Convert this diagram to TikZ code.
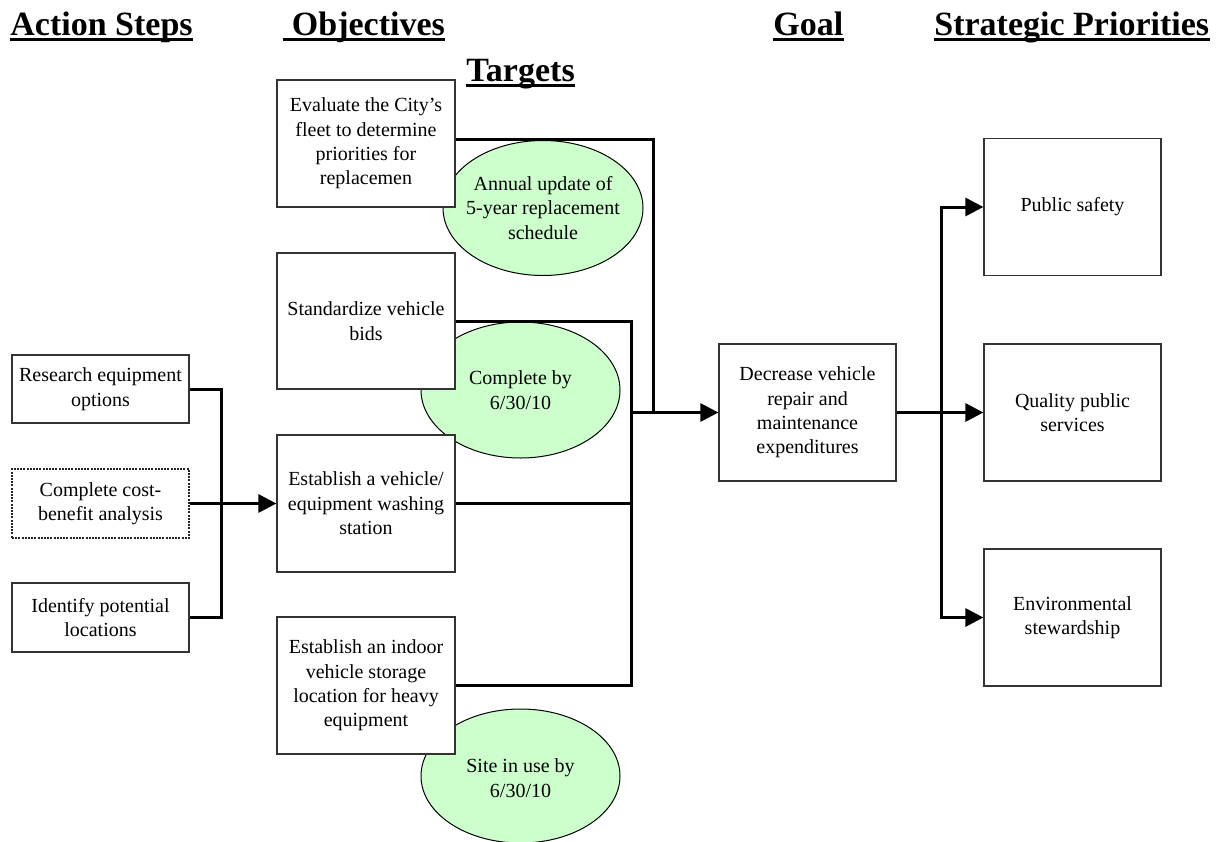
\documentclass[tikz,border=0pt]{standalone}
\usepackage{fontspec}
\setmainfont{Liberation Serif}
\usetikzlibrary{arrows.meta,shapes.geometric,calc}
\definecolor{targetgreen}{HTML}{CCFFCC}
\begin{document}
\begin{tikzpicture}[x=0.5pt,y=-0.5pt,
  box/.style={draw=black!80,line width=0.6pt,fill=white,minimum width=89pt,
    minimum height=68.5pt,align=center,inner sep=2pt,font=\fontsize{10}{12.2}\selectfont},
  smallbox/.style={box,minimum width=88.5pt,minimum height=34.5pt},
  target/.style={ellipse,draw=black,line width=0.5pt,fill=targetgreen,inner sep=0pt,
    minimum width=100pt,minimum height=67.5pt},
  targettext/.style={align=center,inner sep=0pt,font=\fontsize{10}{12.2}\selectfont},
  head/.style={font=\fontsize{17}{20}\selectfont\bfseries,inner sep=0pt,anchor=base west},
  ul/.style={line width=1.3pt},
  conn/.style={line width=1.5pt,line join=miter},
  arr/.style={conn,-{Triangle[length=9pt,width=9pt]}}
]
\useasboundingbox (0,0) rectangle (1221,841);

% column headings
\node[head] (hAct) at (10,35) {Action Steps};
\node[head] (hObj) at (283,35) {\ Objectives};
\node[head] (hGoal) at (773,35) {Goal};
\node[head] (hPri) at (934,35) {Strategic Priorities};
\node[head] (hTar) at (466,81) {Targets};
\foreach \h in {hAct,hObj,hGoal,hPri,hTar}
  \draw[ul] ([yshift=-2.2pt]\h.base west) -- ([yshift=-2.2pt]\h.base east);

% targets (behind the objective boxes); the ellipse keeps its own size, the text sits on it
\node[target] (tAnn) at (543,208) {};
\node[targettext] at (tAnn) {Annual update of\\5-year replacement\\schedule};
\node[target,minimum width=99.5pt,minimum height=68pt] (tCmp) at (520.5,390) {};
\node[targettext] at (tCmp) {Complete by\\6/30/10};
\node[target,minimum width=99.5pt,minimum height=67pt] (tSite) at (520.5,776) {};
\node[targettext] at ([yshift=-1pt]tSite) {Site in use by\\6/30/10};

% action steps
\node[smallbox,minimum height=34pt] (ra) at (100.5,389) {Research equipment\\options};
\node[smallbox,draw=black!85,dash pattern=on 1pt off 0.6pt,line width=1pt] (cb) at (100.5,503.5) {Complete cost-\\benefit analysis};
\node[smallbox] (ip) at (100.5,617.5) {Identify potential\\locations};

% objectives
\node[box,minimum height=63.5pt] (ev) at (366,143.5) {Evaluate the City's\\fleet to determine\\priorities for\\replacemen};
\node[box,minimum height=68pt] (st) at (366,321) {Standardize vehicle\\bids};
\node[box] (wa) at (366,503.5) {Establish a vehicle/\\equipment washing\\station};
\node[box] (in) at (366,685.5) {Establish an indoor\\vehicle storage\\location for heavy\\equipment};

% goal
\node[box,minimum width=88.5pt] (gl) at (807.5,412.5) {Decrease vehicle\\repair and\\maintenance\\expenditures};

% strategic priorities
\node[box,minimum width=88.5pt] (ps) at (1072.5,207) {Public safety};
\node[box,minimum width=88.5pt] (qp) at (1072.5,412.5) {Quality public\\services};
\node[box,minimum width=88.5pt] (es) at (1072.5,617.5) {Environmental\\stewardship};

% bend points of the connectors
\coordinate (lb) at (221,503.5);
\coordinate (c1) at (653,139);
\coordinate (bus) at (631,412.5);
\coordinate (rb) at (941,412.5);

% action steps feed the washing station
\draw[conn] (ra.east) -| (lb) |- (ip.east);
\draw[arr] (cb.east) -- (wa.west);

% objectives feed the goal
\draw[conn] (ev.east |- c1) -- (c1) -- (c1 |- gl.west);
\draw[conn] (st.east) -| (bus |- in.east) -- (in.east);
\draw[conn] (wa.east) -- (wa.east -| bus);
\draw[arr] (bus |- gl.west) -- (gl.west);

% goal feeds the strategic priorities
\draw[arr] (gl.east) -- (qp.west);
\draw[arr] (es.west -| rb) -- (ps.west -| rb) -- (ps.west);
\draw[arr] (ps.west -| rb) -- (es.west -| rb) -- (es.west);
\end{tikzpicture}
\end{document}
